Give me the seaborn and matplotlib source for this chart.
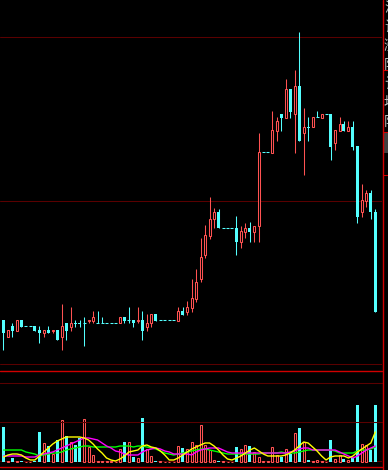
import numpy as np
import pandas as pd
import matplotlib
matplotlib.use("Agg")
import matplotlib.pyplot as plt
from matplotlib.lines import Line2D
from matplotlib.patches import Rectangle
import seaborn as sns

# ---------------- data ----------------
opens = [8.0, 6.33, 7.4, 6.93, 8.0, 7.4, 7.4, 7.4, 7.0, 6.67,
         7.0, 6.93, 7.0, 6.33, 7.73, 7.33, 7.73, 7.73, 7.73, 7.93,
         7.93, 7.67, 7.67, 7.67, 7.67, 7.67, 7.67, 8.27, 8.0, 8.0,
         7.93, 8.0, 7.33, 7.67, 8.6, 8.0, 8.0, 8.0, 8.0, 7.93,
         8.9, 8.8, 9.2, 10.1, 12.1, 14.5, 16.4, 18.1, 18.8, 17.2,
         17.2, 17.2, 17.2, 15.8, 16.8, 17.2, 16.8, 17.4, 24.8, 24.8,
         24.7, 26.9, 28.6, 28.2, 31.1, 28.6, 31.4, 26.7, 27.3, 27.3,
         28.3, 28.2, 28.6, 28.6, 25.7, 26.9, 27.6, 26.9, 27.3, 25.4,
         18.8, 19.9, 20.7, 18.8]
highs = [8.0, 7.0, 7.73, 8.0, 8.0, 7.4, 7.4, 7.4, 7.4, 7.0,
         7.4, 7.0, 7.0, 9.6, 7.73, 9.33, 8.0, 8.0, 8.33, 8.0,
         8.93, 8.93, 8.33, 7.67, 7.67, 7.67, 8.27, 8.27, 9.33, 8.0,
         9.33, 8.93, 8.6, 8.6, 8.6, 8.0, 8.0, 8.0, 8.0, 9.33,
         9.3, 9.9, 12.1, 13.1, 16.2, 17.5, 20.3, 19.2, 19.1, 17.2,
         17.2, 17.2, 18.4, 17.4, 17.7, 17.8, 17.4, 26.7, 24.8, 24.8,
         28.9, 28.3, 28.6, 32.1, 31.1, 33.0, 36.8, 29.2, 28.3, 28.3,
         28.9, 28.6, 28.6, 28.6, 27.0, 28.3, 27.9, 27.9, 27.9, 25.4,
         21.6, 21.0, 21.0, 19.1]
lows = [5.0, 6.33, 6.33, 6.93, 7.33, 7.4, 7.4, 6.93, 5.73, 6.33,
        6.67, 6.67, 6.0, 5.0, 6.0, 6.93, 7.33, 7.33, 5.4, 7.67,
        7.67, 7.67, 7.67, 7.67, 7.67, 7.67, 7.67, 7.67, 7.67, 7.33,
        7.67, 6.0, 6.93, 7.33, 7.93, 8.0, 8.0, 8.0, 8.0, 7.93,
        8.5, 8.5, 8.8, 9.8, 11.8, 14.2, 16.1, 17.2, 17.2, 17.2,
        17.2, 17.2, 14.5, 15.2, 16.2, 15.8, 15.8, 15.8, 24.8, 24.8,
        24.7, 25.9, 26.9, 28.2, 28.2, 24.7, 25.9, 22.5, 25.9, 27.3,
        28.3, 28.2, 28.6, 24.0, 25.0, 26.9, 26.9, 26.9, 25.0, 17.7,
        18.3, 19.3, 18.1, 8.8]
closes = [6.7, 7.0, 6.93, 8.0, 7.33, 7.4, 7.4, 6.93, 6.67, 7.0,
          6.67, 7.0, 6.0, 7.4, 6.93, 7.73, 7.6, 7.6, 7.73, 8.0,
          8.33, 7.67, 7.67, 7.67, 7.67, 7.67, 8.27, 7.93, 8.0, 7.67,
          8.0, 6.93, 7.67, 8.6, 7.93, 8.0, 8.0, 8.0, 8.0, 8.93,
          8.5, 9.3, 10.2, 11.8, 14.3, 16.5, 18.1, 18.8, 17.2, 17.2,
          17.2, 17.2, 15.8, 16.9, 17.2, 16.8, 17.4, 24.8, 24.8, 24.8,
          27.0, 27.9, 28.2, 31.1, 28.8, 31.4, 25.9, 27.3, 27.2, 28.3,
          28.3, 28.6, 28.6, 25.3, 27.0, 27.6, 26.9, 27.3, 25.3, 18.3,
          20.0, 20.7, 18.8, 8.8]
volumes = [35, 1, 4, 1, 1, 0.5, 0.5, 1, 30, 19,
           16, 8, 22, 42, 26, 20, 17, 24, 43, 15,
           7, 1, 1, 1, 1, 0.5, 13, 20, 20, 5,
           4, 44, 13, 6, 1, 1, 0.5, 0.5, 0.5, 16,
           14, 13, 20, 17, 37, 17, 12, 2, 1, 1,
           0.5, 0.5, 15, 13, 17, 16, 10, 5, 1, 1,
           15, 7, 5, 13, 8, 29, 34, 20, 2, 1,
           2, 1, 0.5, 22, 3, 7, 3, 2, 4, 57,
           18, 17, 12, 57]
ma_yellow = [5, 7, 8, 8, 7, 4, 2, 2, 6, 10,
             14, 18, 21, 23, 25, 25, 25, 25, 24, 22,
             18, 13, 9, 4, 2, 1, 3, 6, 10, 11,
             12, 16, 17, 15, 14, 11, 7, 2, 2, 4,
             7, 10, 13, 15, 17, 19, 19, 16, 12, 7,
             3, 2, 4, 6, 9, 12, 14, 11, 8, 6,
             6, 6, 6, 7, 9, 12, 16, 20, 19, 15,
             11, 6, 2, 5, 6, 6, 6, 4, 6, 10,
             13, 16, 19, 30]
ma_magenta = [6, 6, 6, 6, 6, 5, 5, 5, 7, 8,
              9, 10, 12, 14, 16, 18, 20, 22, 24, 24,
              23, 22, 19, 16, 14, 11, 10, 8, 7, 7,
              7, 10, 12, 13, 14, 13, 11, 10, 8, 8,
              8, 8, 7, 10, 12, 13, 14, 14, 14, 12,
              10, 9, 9, 9, 9, 9, 9, 9, 9, 9,
              9, 9, 9, 9, 10, 11, 13, 14, 14, 12,
              12, 12, 12, 12, 12, 10, 8, 6, 4, 6,
              9, 12, 14, 16]
ma_green = [12, 12, 12, 12, 12, 10, 9, 8, 6, 7,
            8, 9, 9, 10, 12, 13, 14, 15, 16, 16,
            15, 15, 15, 15, 15, 15, 16, 16, 16, 15,
            16, 16, 15, 14, 13, 11, 9, 8, 7, 8,
            9, 10, 11, 12, 13, 13, 12, 11, 10, 9,
            8, 8, 8, 8, 8, 8, 8, 8, 9, 9,
            9, 9, 10, 9, 9, 9, 10, 11, 12, 12,
            12, 12, 12, 12, 11, 9, 9, 9, 9, 11,
            12, 12, 13, 15]
price_grid = [3.6, 19.9, 36.3]
vol_grid = [1, 40, 79]

# ---------------- style ----------------
UP = "#ff5252"
DOWN = "#54ffff"
BG = "#000000"
GRID = "#5a0000"
FRAME = "#d00000"

sns.set_style("dark", {"axes.facecolor": BG, "figure.facecolor": BG})
plt.rcParams["font.family"] = ["Noto Sans CJK SC", "DejaVu Sans"]

W, H = 388, 470
fig = plt.figure(figsize=(W / 100, H / 100), dpi=100)
fig.patch.set_facecolor(BG)

def fy(py):
    return 1 - py / H

plot_w = 382
ax = fig.add_axes([0, fy(368), plot_w / W, 368 / H])
axv = fig.add_axes([0, fy(467), plot_w / W, 97 / H])

n = len(opens)
idx = np.arange(n)
step = 4.48
x0 = -3.5 / step
x1 = (plot_w - 3.5) / step
for a in (ax, axv):
    a.set_facecolor(BG)
    a.set_xlim(x0, x1)
    a.set_xticks([])
    a.set_yticks([])
    for s in a.spines.values():
        s.set_visible(False)
    a.grid(False)

ax.set_ylim(3.2, 40.0)
axv.set_ylim(-5, 92)

lw = 0.75
bw_fill = 3.0 / step
bw_hollow = 2.0 / step

for g in price_grid:
    ax.axhline(g, color=GRID, lw=lw, zorder=0)
for g in vol_grid:
    axv.axhline(g, color=GRID, lw=lw, zorder=0)

# candles
for i in range(n):
    o, h, l, c = opens[i], highs[i], lows[i], closes[i]
    if c > o:
        ax.vlines(i, c, h, color=UP, lw=lw)
        ax.vlines(i, l, o, color=UP, lw=lw)
        ax.add_patch(Rectangle((i - bw_hollow / 2, o), bw_hollow, c - o,
                               facecolor=BG, edgecolor=UP, lw=lw, zorder=3))
    elif c < o:
        ax.vlines(i, l, h, color=DOWN, lw=lw)
        ax.bar(i, o - c, bottom=c, width=bw_fill, color=DOWN, lw=0, zorder=3)
    else:
        ax.vlines(i, l, h, color=DOWN, lw=lw)
        ax.hlines(c, i - bw_fill / 2, i + bw_fill / 2, color=DOWN, lw=lw, zorder=3)

# volume bars
for i in range(n):
    v = volumes[i]
    if closes[i] < opens[i]:
        axv.bar(i, v, width=bw_fill, color=DOWN, lw=0, zorder=2)
    else:
        axv.add_patch(Rectangle((i - bw_hollow / 2, 0), bw_hollow, v,
                                facecolor=BG, edgecolor=UP, lw=lw, zorder=2))

df = pd.DataFrame({"i": idx, "y": ma_yellow, "m": ma_magenta, "g": ma_green})
sns.lineplot(data=df, x="i", y="g", ax=axv, color="#00ff00", lw=1.0, zorder=4)
sns.lineplot(data=df, x="i", y="m", ax=axv, color="#ff00ff", lw=1.0, zorder=5)
sns.lineplot(data=df, x="i", y="y", ax=axv, color="#ffff00", lw=1.0, zorder=6)
axv.set_xlabel("")
axv.set_ylabel("")
ax.set_xlabel("")
ax.set_ylabel("")

# frame lines
def hline(py, color, lw_=1.0, x_end=plot_w):
    fig.add_artist(Line2D([0, x_end / W], [fy(py), fy(py)], color=color, lw=lw_))

hline(370.5, FRAME, 1.0)
hline(466.5, FRAME, 1.0)
hline(383, GRID, 0.75)
hline(422, GRID, 0.75)
fig.add_artist(Line2D([382.5 / W, 382.5 / W], [0, 1], color=FRAME, lw=1.0))
for py in (70, 132, 175):
    fig.add_artist(Line2D([383 / W, 1], [fy(py), fy(py)], color=FRAME, lw=0.75))
fig.add_artist(Rectangle((384 / W, fy(153)), 4 / W, 21 / H, transform=fig.transFigure,
                         facecolor="#404040", edgecolor="none"))

side = ["深", "证", "涨", "阳", "让", "地", "阳"]
for k, ch in enumerate(side):
    fig.text(384 / W, fy(8 + k * 19), ch, color="#c0c0c0", fontsize=10,
             va="center", ha="left")

fig.savefig("out.png", dpi=100, facecolor=BG)
